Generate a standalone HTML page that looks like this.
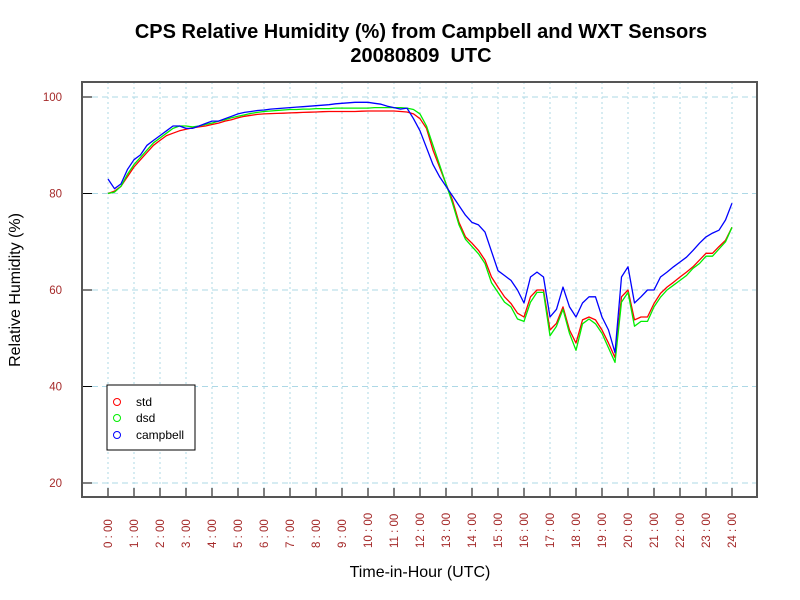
<!DOCTYPE html>
<html><head><meta charset="utf-8"><style>
body{margin:0;background:#fff}
svg{display:block;font-family:"Liberation Sans",sans-serif}
</style></head><body>
<svg id="c" width="800" height="600">
<text x="421" y="38" text-anchor="middle" font-size="20" font-weight="bold">CPS Relative Humidity (%) from Campbell and WXT Sensors</text>
<text x="421" y="62" text-anchor="middle" font-size="20" font-weight="bold">20080809&#160; UTC</text>
<g id="grid"></g><g id="series"></g><g id="axes"></g>
<text x="420" y="577" text-anchor="middle" font-size="16">Time-in-Hour (UTC)</text>
<text transform="translate(20,290) rotate(-90)" text-anchor="middle" font-size="16">Relative Humidity (%)</text>
<g>
<rect x="107" y="385" width="88" height="65" fill="#fff" stroke="#000"/>
<g><circle cx="117" cy="402" r="3.5" fill="none" stroke="#f00"/><text x="136" y="406" font-size="12">std</text></g>
<g><circle cx="117" cy="418" r="3.5" fill="none" stroke="#0e0"/><text x="136" y="422" font-size="12">dsd</text></g>
<g><circle cx="117" cy="435" r="3.5" fill="none" stroke="#00f"/><text x="136" y="439" font-size="12">campbell</text></g>
</g>
</svg>
<script>
const yTicks=[20,40,60,80,100];
const xTickHours=[0,1,2,3,4,5,6,7,8,9,10,11,12,13,14,15,16,17,18,19,20,21,22,23,24];
const stepHours=0.25;
const campbell=[83,81,82,85,87,88,90,91,92,93,94,94,93.5,93.5,94,94.5,95,95,95.5,96,96.5,96.8,97,97.2,97.3,97.5,97.6,97.7,97.8,97.9,98,98.1,98.2,98.3,98.4,98.6,98.7,98.8,98.9,98.9,98.9,98.7,98.5,98.1,97.8,97.5,97.7,95.5,93,89.5,86,83.5,81.5,79.5,77.5,75.5,74,73.5,72,68,64,63,62,60,57.3,62.7,63.7,62.7,54.4,56,60.6,56.5,54.4,57.3,58.6,58.6,54.4,51.7,47,62.7,64.8,57.3,58.6,60,60,62.7,63.7,64.8,65.8,66.8,68.2,69.7,71,71.8,72.4,74.5,78];
const std=[80,80.5,81.5,83.5,85.5,87,88.5,90,91,92,92.5,93,93.3,93.6,93.8,94,94.3,94.6,95,95.3,95.7,96,96.2,96.4,96.5,96.55,96.6,96.65,96.7,96.75,96.8,96.85,96.9,96.95,97,97,97,97,97,97.05,97.1,97.1,97.1,97.1,97.1,97,96.9,96.5,95.5,93.5,89,85.5,82,78.6,74,71,69.7,68.2,66.2,62.7,60.6,58.6,57.2,55.2,54.4,58.6,60,60,51.7,53.1,56.5,51.7,49,53.8,54.4,53.8,51.7,49,46,58.6,60,53.8,54.4,54.4,57.2,59.3,60.6,61.6,62.7,63.7,64.8,66.2,67.6,67.6,69,70.3,73];
const dsd=[80,80.3,81.5,84,86,87.5,89,90.5,91.5,92.5,93.5,94,94,93.8,94,94.3,94.6,95,95.3,95.7,96,96.3,96.6,96.8,97,97.1,97.2,97.3,97.4,97.4,97.5,97.5,97.6,97.6,97.6,97.7,97.7,97.7,97.7,97.7,97.7,97.8,97.8,97.8,97.8,97.8,97.7,97.4,96.5,94,90,86,82,78,73.5,70.5,69,67.5,65.5,61.5,59.5,57.5,56.5,54,53.5,57.5,59.5,59.5,50.5,52.5,56,51,47.5,53,54,53,51,48,45,57.5,59.5,52.5,53.5,53.5,56.5,58.5,60,61,62,63,64.5,65.5,67,67,68.5,70,73];

const NS='http://www.w3.org/2000/svg';
const L=82,R=757,T=82,B=497;
function xs(h){return 108+h*26;}
function ys(v){return 97+(100-v)*4.825;}
function mk(tag,attrs,parent){const e=document.createElementNS(NS,tag);for(const k in attrs)e.setAttribute(k,attrs[k]);parent.appendChild(e);return e;}
const grid=document.getElementById('grid'),axes=document.getElementById('axes'),ser=document.getElementById('series');
xTickHours.forEach(h=>{
  const g=mk('line',{x1:xs(h),x2:xs(h),y1:T,y2:B,stroke:'#add8e6','stroke-dasharray':'2,3'},grid);
  
  
  const t=mk('line',{x1:xs(h),x2:xs(h),y1:488,y2:B,stroke:'#000'},axes);
  
  
  const lb=mk('text',{transform:`translate(${xs(h)+4},548) rotate(-90)`,'font-size':'11.5',fill:'#a52a2a'},axes);
  lb.textContent=h+' : 00';
  
  
});
yTicks.forEach(v=>{
  const g=mk('line',{x1:L,x2:R,y1:ys(v),y2:ys(v),stroke:'#add8e6','stroke-dasharray':'6,4'},grid);
  
  
  const t=mk('line',{x1:L,x2:92,y1:ys(v),y2:ys(v),stroke:'#000'},axes);
  
  
  const lb=mk('text',{x:62,y:ys(v)+4,'text-anchor':'end','font-size':'11.5',fill:'#a52a2a'},axes);
  lb.textContent=v;
  
  
});
const frame=mk('rect',{x:L,y:T,width:R-L,height:B-T,fill:'none',stroke:'#555','stroke-width':2},axes);


function line(arr,color,name){
  const pts=arr.map((v,i)=>xs(i*stepHours).toFixed(1)+','+ys(v).toFixed(1)).join(' ');
  const p=mk('polyline',{points:pts,fill:'none',stroke:color,'stroke-width':1.3,'stroke-linejoin':'round'},ser);
  
  
}
line(std,'#f00','std-line');
line(dsd,'#0e0','dsd-line');
line(campbell,'#00f','campbell-line');
</script>
</body></html>
